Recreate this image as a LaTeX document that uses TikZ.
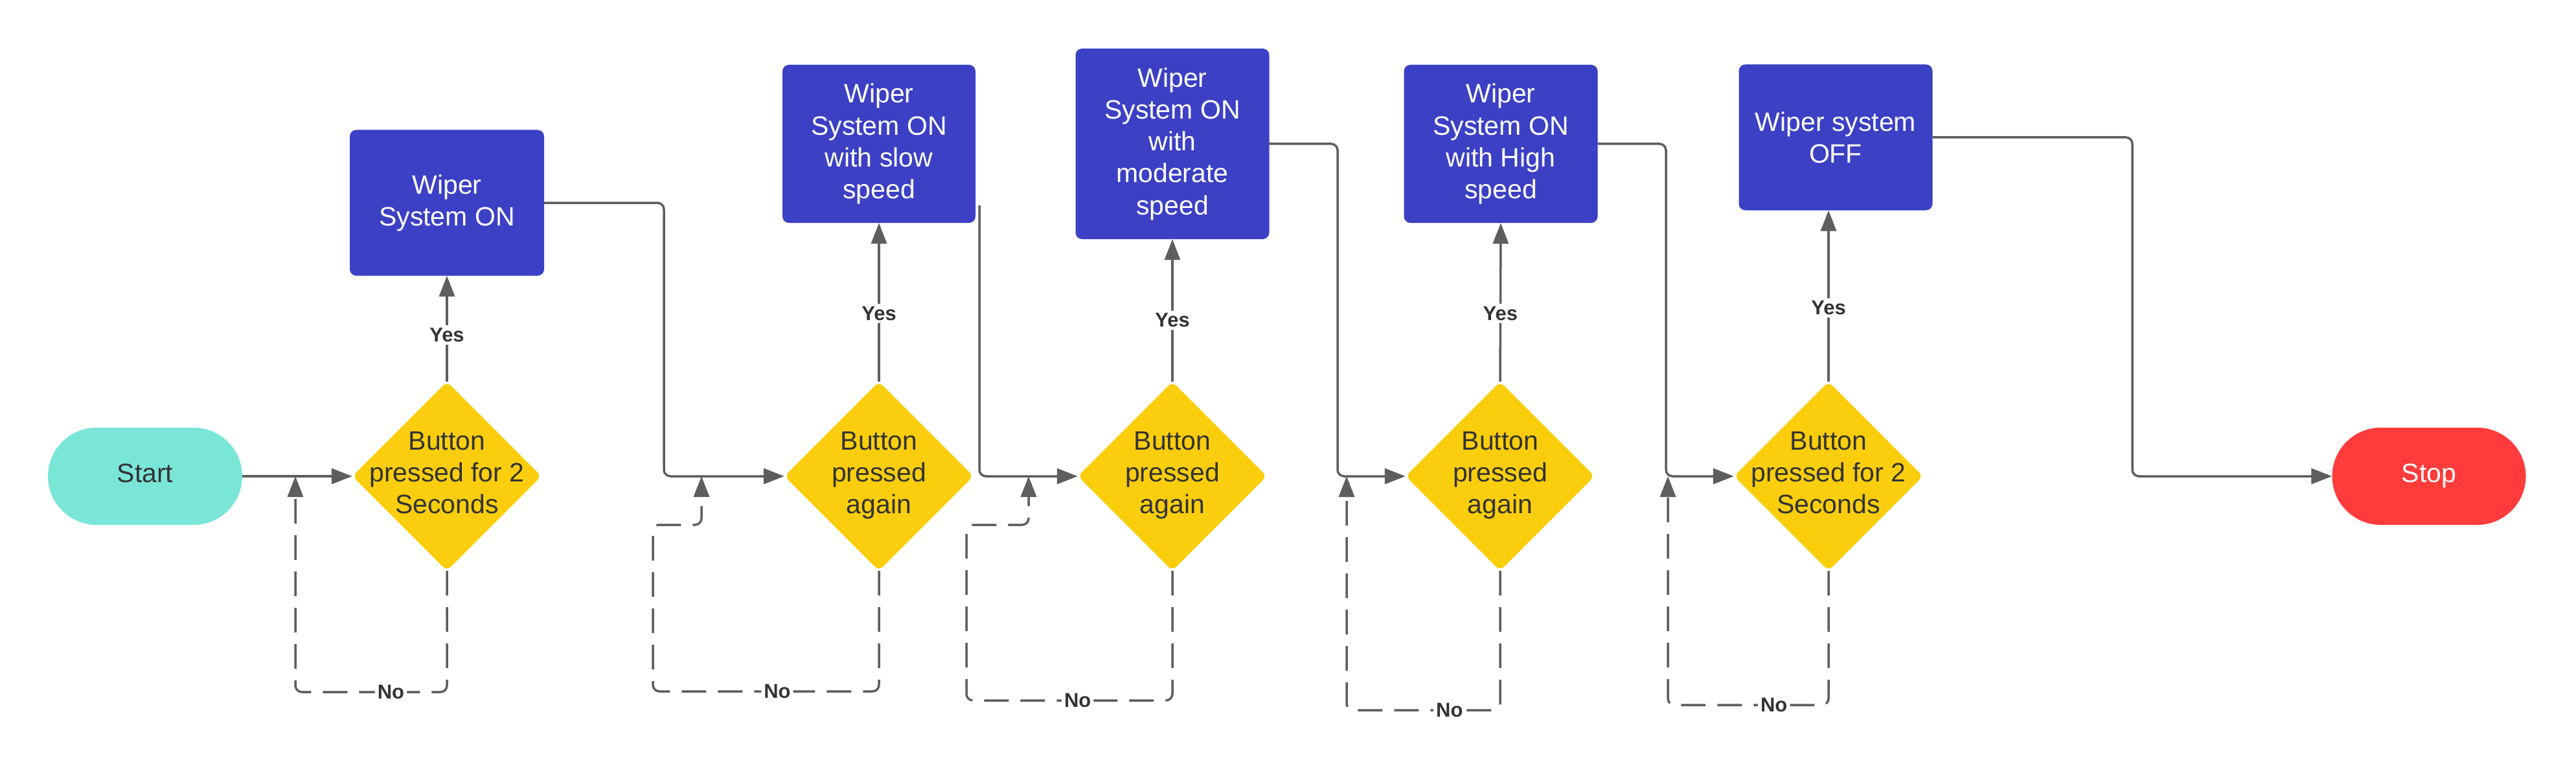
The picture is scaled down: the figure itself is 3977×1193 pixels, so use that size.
\documentclass[tikz,border=0pt]{standalone}
\usepackage{fontspec}
\setmainfont{Liberation Sans}
\usetikzlibrary{shapes.geometric,arrows.meta,calc}
\definecolor{boxblue}{RGB}{59,64,196}
\definecolor{dyellow}{RGB}{250,206,13}
\definecolor{teal}{RGB}{121,230,216}
\definecolor{stopred}{RGB}{255,59,59}
\definecolor{linegray}{RGB}{94,94,94}
\definecolor{txtdark}{RGB}{51,51,51}
\newcommand{\dtext}[1]{\makebox[0pt]{\raisebox{-5pt}[0pt][0pt]{\begin{tabular}[c]{@{}c@{}}#1\end{tabular}}}}
\tikzset{
  mainfont/.style={font=\fontsize{41}{49.2}\selectfont},
  procbox/.style={rectangle, rounded corners=10pt, fill=boxblue, text=white, mainfont, align=center, inner sep=0pt, minimum width=300pt, minimum height=225pt},
  decision/.style={diamond, aspect=1, rounded corners=9pt, fill=dyellow, text=txtdark, mainfont, inner sep=0pt, minimum width=292pt, minimum height=292pt},
  pill/.style={rectangle, rounded corners=75pt, mainfont, text depth=10pt, inner sep=0pt, minimum width=300pt, minimum height=150pt},
  conn/.style={draw=linegray, line width=3.5pt, rounded corners=10pt, -{Triangle[length=32pt,width=24pt]}},
  dconn/.style={conn, dash pattern=on 38pt off 18pt},
  lbl/.style={fill=white, text=txtdark, font=\fontsize{31}{37}\selectfont\bfseries, inner sep=4pt}
}
\begin{document}
\begin{tikzpicture}[x=1pt,y=-1pt]
\useasboundingbox (0,0) rectangle (3977,1193);
% nodes
\node[pill, fill=teal, text=txtdark] (S) at (224,735) {Start};
\node[decision] (D1) at (690,735) {\dtext{Button\\pressed for 2\\Seconds}};
\node[procbox] (B1) at (690,313) {Wiper\\System ON};
\node[decision] (D2) at (1357,735) {\dtext{Button\\pressed\\again}};
\node[procbox, minimum width=298pt, minimum height=244pt] (B2) at (1357,222) {Wiper\\System ON\\with slow\\speed};
\node[decision] (D3) at (1810,735) {\dtext{Button\\pressed\\again}};
\node[procbox, minimum width=299pt, minimum height=294pt] (B3) at (1810,222) {Wiper\\System ON\\with\\moderate\\speed};
\node[decision] (D4) at (2316,735) {\dtext{Button\\pressed\\again}};
\node[procbox, minimum width=299pt, minimum height=244pt] (B4) at (2317,222) {Wiper\\System ON\\with High\\speed};
\node[decision] (D5) at (2823,735) {\dtext{Button\\pressed for 2\\Seconds}};
\node[procbox, minimum width=299pt, minimum height=225pt] (B5) at (2834,212) {Wiper system\\OFF};
\node[pill, fill=stopred, text=white, minimum width=299pt] (P) at (3750,735) {Stop};
% junction coordinates
\coordinate (j1) at (456,735);
\coordinate (j2) at (1083,735);
\coordinate (j3) at (1588,735);
\coordinate (j4) at (2079,735);
\coordinate (j5) at (2575,735);
\coordinate (b2out) at ($(B2.south east)+(6,-27)$);
% main flow
\draw[conn] (S.east) -- (D1.west);
\draw[conn] (B1.east) -| (1025,735) -- (D2.west);
\draw[conn] (b2out) -- (1512,735) -- (D3.west);
\draw[conn] (B3.east) -| (2065,735) -- (D4.west);
\draw[conn] (B4.east) -| (2572,735) -- (D5.west);
\draw[conn] (B5.east) -| (3292,735) -- (P.west);
% yes branches
\draw[conn] (D1.north) -- node[lbl,pos=0.44] (y1) {Yes} (B1.south);
\draw[conn] (D2.north) -- node[lbl,pos=0.43] (y2) {Yes} (B2.south);
\draw[conn] (D3.north) -- node[lbl,pos=0.43] (y3) {Yes} (B3.south);
\draw[conn] (D4.north) -- node[lbl,pos=0.43] (y4) {Yes} (B4.south);
\draw[conn] (D5.north) -- node[lbl,pos=0.43] (y5) {Yes} (D5.north |- B5.south);
% no loops
\draw[dconn] (D1.south) -- (690,1068) -- node[lbl,pos=0.37] (n1) {No} (456,1068) -- (j1);
\draw[dconn] (D2.south) -- (1357,1067) -- node[lbl,pos=0.45] (n2) {No} (1008,1067) -- (1008,810) -- (1083,810) -- (j2);
\draw[dconn] (D3.south) -- (1810,1081) -- node[lbl,pos=0.46] (n3) {No} (1492,1081) -- (1492,810) -- (1588,810) -- (j3);
\draw[dconn] (D4.south) -- (2316,1096) -- node[lbl,pos=0.33] (n4) {No} (2079,1096) -- (j4);
\draw[dconn] (D5.south) -- (2823,1088) -- node[lbl,pos=0.34] (n5) {No} (2575,1088) -- (j5);
\end{tikzpicture}
\end{document}
